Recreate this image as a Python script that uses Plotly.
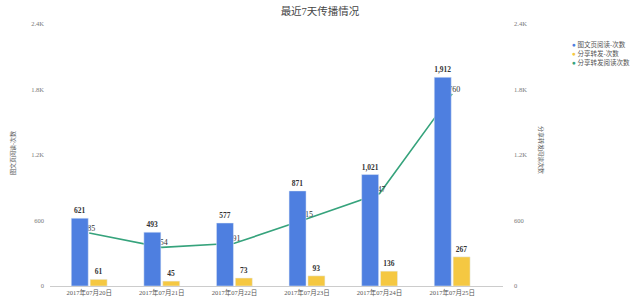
import plotly.graph_objects as go

categories = ["2017年07月20日", "2017年07月21日", "2017年07月22日",
              "2017年07月23日", "2017年07月24日", "2017年07月25日"]
page_reads = [621, 493, 577, 871, 1021, 1912]
share_counts = [61, 45, 73, 93, 136, 267]
share_reads = [485, 354, 391, 615, 847, 1760]

tick_vals = [0, 600, 1200, 1800, 2400]
tick_text = ["0", "600", "1.2K", "1.8K", "2.4K"]

BLUE = "#4E7FE0"
YELLOW = "#F5C842"
GREEN = "#36A37C"
FONT = "Liberation Serif, Noto Sans CJK SC"

fig = go.Figure()

# line on primary (drawn underneath)
fig.add_trace(go.Scatter(
    x=categories, y=share_reads, name="分享转发阅读次数",
    mode="lines+text", line=dict(color=GREEN, width=1.6),
    text=[str(v) for v in share_reads], textposition="top center",
    textfont=dict(family=FONT, size=8, color="#333"),
    cliponaxis=False, yaxis="y", showlegend=False,
))
# bars on overlaying axis (drawn on top)
fig.add_trace(go.Bar(
    x=categories, y=page_reads, name="图文页阅读-次数", marker_color=BLUE,
    texttemplate="<b>%{y:,}</b>", textposition="outside",
    textfont=dict(family=FONT, size=7.5, color="#333"),
    cliponaxis=False, yaxis="y2", showlegend=False,
))
fig.add_trace(go.Bar(
    x=categories, y=share_counts, name="分享转发-次数", marker_color=YELLOW,
    texttemplate="<b>%{y:,}</b>", textposition="outside",
    textfont=dict(family=FONT, size=7.5, color="#333"),
    cliponaxis=False, yaxis="y2", showlegend=False,
))

axis_common = dict(range=[0, 2400], tickvals=tick_vals, ticktext=tick_text,
                   showgrid=False, zeroline=False, showline=False, automargin=False,
                   tickfont=dict(family=FONT, size=6.5, color="#777"))

fig.update_layout(
    width=640, height=302,
    margin=dict(l=50, r=137, t=24, b=16, autoexpand=False),
    paper_bgcolor="white", plot_bgcolor="white",
    barmode="group", bargap=0.48, bargroupgap=0.1,
    showlegend=False,
    title=dict(text="最近7天传播情况", x=0.5, xanchor="center", y=0.963, yanchor="middle",
               font=dict(family=FONT, size=10.5, color="#444")),
    xaxis=dict(range=[-0.54, 5.7], showgrid=False, zeroline=False, automargin=False,
               showline=True, linecolor="#ccc", linewidth=1, ticks="",
               tickfont=dict(family=FONT, size=6.5, color="#555")),
    yaxis=dict(side="right", ticklabelstandoff=10, **axis_common),
    yaxis2=dict(side="left", overlaying="y", ticklabelstandoff=5, **axis_common),
)

# axis titles
fig.add_annotation(text="图文页阅读-次数", xref="paper", yref="paper",
                   x=-37/453, y=(286-153)/262, xanchor="center", yanchor="middle",
                   textangle=-90, showarrow=False,
                   font=dict(family=FONT, size=6, color="#555"))
fig.add_annotation(text="分享转发阅读次数", xref="paper", yref="paper",
                   x=(541-50)/453, y=(286-150)/262, xanchor="center", yanchor="middle",
                   textangle=90, showarrow=False,
                   font=dict(family=FONT, size=6, color="#555"))

# legend
legend_items = [("图文页阅读-次数", BLUE), ("分享转发-次数", YELLOW), ("分享转发阅读次数", GREEN)]
for i, (name, col) in enumerate(legend_items):
    fig.add_annotation(
        text=f'<span style="color:{col}">●</span> {name}',
        xref="paper", yref="paper",
        x=(570-50)/453, y=(286-(45+8.7*i))/262, xanchor="left", yanchor="middle",
        showarrow=False, font=dict(family=FONT, size=6.5, color="#555"))

fig.write_html("out.html")
